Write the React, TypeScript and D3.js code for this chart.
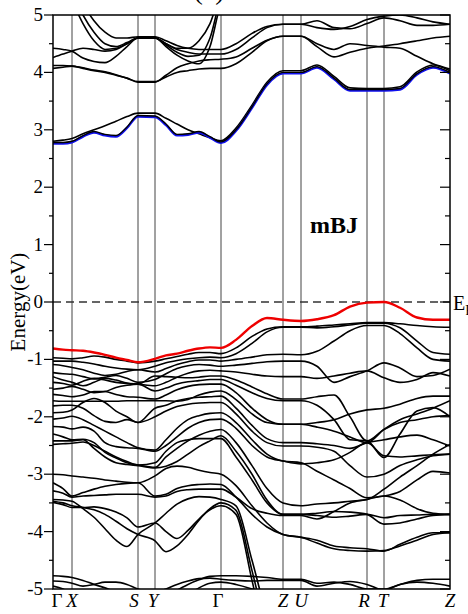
import React from 'react'
import * as d3 from 'd3'

// k-path distance of every sampled point (same grid for all bands)
const kPoints = [0, 0.1, 0.19, 0.3, 0.41, 0.52, 0.63, 0.74, 0.85, 1.02, 1.13, 1.24, 1.35, 1.46, 1.57, 1.68, 1.83, 1.99, 2.14, 2.3, 2.48, 2.64, 2.81, 2.97, 3.14, 3.31, 3.47, 3.64, 3.8, 3.97]
const symLabels = ['Γ', 'X', 'S', 'Y', 'Γ', 'Z', 'U', 'R', 'T', 'Z']
const symK = [0, 0.19, 0.85, 1.02, 1.68, 2.3, 2.48, 3.14, 3.31, 3.97]
const yTicks = [-5, -4, -3, -2, -1, 0, 1, 2, 3, 4, 5]

// top valence band (red)
const vbm = [-0.81, -0.83, -0.84, -0.85, -0.88, -0.92, -0.97, -1.01, -1.05, -0.99,
  -0.93, -0.9, -0.85, -0.81, -0.79, -0.8, -0.66, -0.42, -0.28, -0.31,
  -0.33, -0.3, -0.23, -0.08, -0.01, 0.0, -0.1, -0.27, -0.31, -0.31]

// lowest conduction band (blue)
const cbm = [2.78, 2.78, 2.8, 2.9, 2.97, 2.92, 2.9, 3.05, 3.25, 3.24,
  3.1, 2.92, 2.93, 2.97, 2.88, 2.79, 3.0, 3.4, 3.8, 4.0,
  4.0, 4.1, 3.9, 3.7, 3.7, 3.7, 3.72, 3.98, 4.1, 4.0]

const valence = [
  [-0.97, -0.98, -0.99, -0.97, -0.94, -0.96, -1.0, -1.03, -1.06, -1.03,
    -0.99, -0.95, -0.91, -0.88, -0.88, -0.9, -0.8, -0.6, -0.47, -0.43,
    -0.43, -0.42, -0.4, -0.38, -0.36, -0.36, -0.38, -0.41, -0.43, -0.44],
  [-1.03, -1.03, -1.03, -1.05, -1.08, -1.12, -1.15, -1.17, -1.18, -1.12,
    -1.06, -1.02, -0.99, -0.97, -0.96, -0.97, -0.9, -0.72, -0.52, -0.44,
    -0.44, -0.45, -0.43, -0.4, -0.37, -0.37, -0.45, -0.68, -0.88, -0.91],
  [-1.09, -1.11, -1.14, -1.18, -1.24, -1.28, -1.26, -1.21, -1.18, -1.22,
    -1.16, -1.09, -1.04, -1.01, -1.01, -1.03, -1.0, -0.96, -0.92, -0.91,
    -0.92, -0.86, -0.68, -0.5, -0.41, -0.41, -0.55, -0.8, -1.0, -1.03],
  [-1.23, -1.25, -1.26, -1.3, -1.34, -1.31, -1.28, -1.33, -1.4, -1.35,
    -1.25, -1.16, -1.11, -1.09, -1.1, -1.12, -1.1, -1.07, -1.04, -1.03,
    -1.03, -1.12, -1.4, -1.3, -1.2, -1.06, -1.15, -1.3, -1.28, -1.17],
  [-1.3, -1.36, -1.4, -1.46, -1.4, -1.33, -1.36, -1.41, -1.43, -1.46,
    -1.4, -1.31, -1.24, -1.2, -1.19, -1.2, -1.22, -1.26, -1.29, -1.3,
    -1.3, -1.33, -1.29, -1.24, -1.2, -1.32, -1.4, -1.35, -1.23, -1.29],
  [-1.4, -1.42, -1.45, -1.38, -1.33, -1.36, -1.4, -1.42, -1.43, -1.29,
    -1.3, -1.31, -1.32, -1.31, -1.29, -1.29, -1.36, -1.48, -1.6, -1.69,
    -1.69, -1.65, -1.62, -2.0, -2.42, -2.22, -2.1, -2.05, -2.0, -1.98],
  [-1.52, -1.5, -1.47, -1.52, -1.58, -1.56, -1.49, -1.45, -1.43, -1.55,
    -1.5, -1.43, -1.39, -1.37, -1.35, -1.35, -1.45, -1.58, -1.68, -1.72,
    -1.72, -1.8, -2.05, -2.4, -2.42, -2.71, -2.3, -1.9, -1.84, -2.0],
  [-1.61, -1.63, -1.65, -1.62, -1.56, -1.56, -1.61, -1.65, -1.66, -1.69,
    -1.62, -1.53, -1.47, -1.44, -1.43, -1.43, -1.58, -1.85, -2.05, -2.13,
    -2.13, -2.1, -2.05, -1.95, -1.88, -1.85, -1.78, -1.68, -1.64, -1.64],
  [-1.72, -1.73, -1.73, -1.73, -1.73, -1.73, -1.73, -1.72, -1.72, -1.72,
    -1.72, -1.73, -1.7, -1.62, -1.57, -1.55, -1.7, -1.95, -2.1, -2.13,
    -2.13, -2.18, -2.25, -2.35, -2.45, -2.22, -2.05, -1.95, -1.85, -1.72],
  [-1.81, -1.8, -1.8, -1.85, -1.98, -2.08, -2.1, -2.05, -2.1, -1.85,
    -1.8, -1.72, -1.68, -1.66, -1.65, -1.64, -1.85, -2.15, -2.38, -2.45,
    -2.45, -2.47, -2.5, -2.55, -2.45, -2.4, -2.35, -2.32, -2.4, -2.51],
  [-1.93, -1.92, -1.88, -1.75, -1.68, -1.75, -1.9, -2.0, -2.1, -2.0,
    -1.9, -1.82, -1.78, -1.76, -1.75, -1.75, -1.95, -2.25, -2.45, -2.51,
    -2.51, -2.53, -2.6, -2.85, -3.05, -3.0, -2.85, -2.75, -2.68, -2.65],
  [-2.04, -2.02, -1.99, -2.05, -2.15, -2.25, -2.35, -2.45, -2.54, -2.58,
    -2.4, -2.2, -2.05, -1.98, -1.94, -1.93, -2.1, -2.4, -2.65, -2.77,
    -2.8, -2.95, -3.1, -3.25, -3.41, -3.38, -3.3, -3.1, -2.95, -2.98],
  [-2.17, -2.18, -2.21, -2.18, -2.25, -2.45, -2.52, -2.54, -2.55, -2.6,
    -2.5, -2.35, -2.2, -2.1, -2.05, -2.04, -2.2, -2.5, -2.7, -2.77,
    -2.82, -2.8, -2.75, -2.62, -2.45, -2.68, -2.7, -2.68, -2.66, -2.65],
  [-2.3, -2.35, -2.4, -2.39, -2.45, -2.62, -2.72, -2.8, -2.84, -2.88,
    -2.7, -2.55, -2.42, -2.32, -2.25, -2.22, -2.45, -2.85, -3.25, -3.5,
    -3.55, -3.52, -3.5, -3.47, -3.44, -3.26, -3.05, -2.85, -2.65, -2.48],
  [-2.42, -2.42, -2.42, -2.4, -2.55, -2.7, -2.8, -2.83, -2.85, -2.89,
    -2.86, -2.78, -2.65, -2.52, -2.42, -2.33, -2.6, -3.0, -3.45, -3.7,
    -3.7, -3.72, -3.75, -3.73, -3.7, -3.76, -3.72, -3.71, -3.7, -3.7],
  [-2.48, -2.47, -2.46, -2.44, -2.5, -2.6, -2.7, -2.78, -2.84, -2.8,
    -2.6, -2.45, -2.4, -2.38, -2.38, -2.38, -2.7, -3.1, -3.5, -3.7,
    -3.7, -3.68, -3.65, -3.66, -3.7, -3.87, -3.85, -3.78, -3.72, -3.7],
  [-3.0, -3.01, -3.03, -3.05, -3.07, -3.1, -3.12, -3.14, -3.15, -3.03,
    -2.9, -2.86, -2.88, -2.93, -2.97, -3.0, -3.2, -3.55, -3.85, -4.05,
    -4.1, -4.2, -4.3, -4.33, -4.34, -4.33, -4.25, -4.15, -4.05, -4.02],
  [-3.15, -3.25, -3.38, -3.32, -3.26, -3.21, -3.18, -3.16, -3.15, -3.38,
    -3.35, -3.25, -3.2, -3.18, -3.17, -3.18, -3.4, -3.7, -3.92, -4.05,
    -4.1, -4.15, -4.25, -4.28, -4.3, -4.34, -4.22, -4.1, -4.02, -4.02],
  [-3.29, -3.33, -3.4, -3.38, -3.37, -3.36, -3.35, -3.35, -3.35, -3.4,
    -3.38, -3.3, -3.27, -3.26, -3.26, -3.26, -3.4, -3.6, -3.68, -3.72,
    -3.72, -3.78, -3.65, -3.5, -3.44, -3.38, -3.45, -3.6, -3.68, -3.7],
  [-3.44, -3.45, -3.47, -3.6, -3.75, -3.95, -4.15, -4.26, -4.05, -3.85,
    -3.68, -3.52, -3.43, -3.39, -3.4, -3.44, -3.55, -4.5, -5.45, -6.0,
    -6.0, -6.0, -6.0, -6.0, -6.0, -6.0, -6.0, -6.0, -6.0, -6.0],
  [-3.47, -3.5, -3.55, -3.58, -3.62, -3.7, -3.82, -3.95, -4.05, -4.16,
    -4.35, -4.25, -4.05, -3.8, -3.6, -3.5, -3.63, -4.68, -5.7, -6.2,
    -6.2, -6.2, -6.2, -6.2, -6.2, -6.2, -6.2, -6.2, -6.2, -6.2],
  [-3.49, -3.53, -3.58, -3.58, -3.57, -3.6, -3.66, -3.76, -3.92, -3.85,
    -4.0, -4.12, -3.98, -3.78, -3.62, -3.55, -3.7, -4.85, -5.95, -6.4,
    -6.4, -6.4, -6.4, -6.4, -6.4, -6.4, -6.4, -6.4, -6.4, -6.4],
  [-4.77, -4.78, -4.8, -4.85, -4.92, -4.98, -5.05, -5.1, -5.15, -5.15,
    -5.1, -5.02, -4.92, -4.84, -4.78, -4.77, -4.77, -4.78, -4.8, -4.83,
    -4.83, -4.9, -4.88, -4.92, -5.0, -5.0, -4.92, -4.85, -4.83, -4.83],
  [-4.86, -4.87, -4.9, -4.95, -4.92, -4.88, -4.88, -4.92, -5.0, -5.05,
    -5.0, -4.92, -4.86, -4.82, -4.81, -4.83, -4.85, -4.86, -4.85, -4.85,
    -4.85, -4.95, -4.9, -4.87, -4.92, -5.02, -4.92, -4.88, -4.9, -4.95],
  [-4.95, -5.0, -5.1, -5.25, -5.3, -5.3, -5.3, -5.3, -5.3, -5.3,
    -5.3, -5.25, -5.1, -4.98, -4.9, -4.88, -4.92, -5.0, -5.1, -5.2,
    -5.2, -5.2, -5.2, -5.2, -5.2, -5.2, -5.2, -5.2, -5.2, -5.2],
]

const conduction = [
  [2.8, 2.82, 2.85, 2.93, 3.0, 3.07, 3.15, 3.23, 3.29, 3.29,
    3.2, 3.1, 3.0, 2.93, 2.86, 2.81, 3.03, 3.43, 3.83, 4.03,
    4.03, 4.13, 3.93, 3.73, 3.72, 3.72, 3.75, 4.01, 4.13, 4.03],
  [4.07, 4.09, 4.11, 4.07, 4.03, 4.0, 3.95, 3.9, 3.84, 3.84,
    3.92, 4.0, 4.03, 4.06, 4.07, 4.07, 4.15, 4.35, 4.55, 4.63,
    4.63, 4.45, 4.27, 4.35, 4.42, 4.46, 4.5, 4.55, 4.6, 4.63],
  [4.12, 4.12, 4.11, 4.08, 4.04, 4.01, 3.96, 3.9, 3.83, 3.83,
    3.95, 4.08, 4.15, 4.2, 4.22, 4.23, 4.27, 4.42, 4.56, 4.63,
    4.63, 4.5, 4.4, 4.5, 4.47, 4.44, 4.42, 4.28, 4.15, 4.06],
  [4.42, 4.4, 4.37, 4.25, 4.19, 4.17, 4.28, 4.45, 4.6, 4.6,
    4.5, 4.42, 4.42, 4.55, 4.85, 5.4, 5.7, 6.0, 6.0, 6.0,
    6.0, 6.0, 6.0, 6.0, 6.0, 6.0, 6.0, 6.0, 6.0, 6.0],
  [4.26, 4.32, 4.37, 4.42, 4.4, 4.37, 4.4, 4.5, 4.6, 4.6,
    4.48, 4.35, 4.28, 4.3, 4.6, 5.3, 5.6, 6.0, 6.0, 6.0,
    6.0, 6.0, 6.0, 6.0, 6.0, 6.0, 6.0, 6.0, 6.0, 6.0],
  [6.0, 5.6, 5.25, 4.85, 4.55, 4.4, 4.42, 4.5, 4.6, 4.6,
    4.45, 4.3, 4.2, 4.15, 4.45, 5.2, 5.5, 6.0, 6.0, 6.0,
    6.0, 6.0, 6.0, 6.0, 6.0, 6.0, 6.0, 6.0, 6.0, 6.0],
  [6.2, 5.8, 5.4, 5.0, 4.7, 4.5, 4.45, 4.52, 4.6, 4.6,
    4.5, 4.4, 4.35, 4.32, 4.32, 4.32, 4.4, 4.6, 4.78, 4.84,
    4.84, 4.9, 4.78, 4.76, 4.85, 4.95, 4.9, 4.82, 4.82, 4.84],
  [6.5, 6.0, 5.6, 5.2, 4.9, 4.7, 4.6, 4.6, 4.62, 4.62,
    4.55, 4.47, 4.42, 4.4, 4.4, 4.4, 4.5, 4.68, 4.8, 4.84,
    4.84, 4.78, 4.75, 4.8, 4.92, 4.98, 5.0, 4.95, 4.88, 4.84],
]

const serif = '"Liberation Serif", "DejaVu Serif", serif'

export default function App() {
  const left = 53
  const right = 450
  const top = 15
  const bottom = 589

  const x = d3.scaleLinear().domain([0, 3.97]).range([left, right])
  const y = d3.scaleLinear().domain([-5, 5]).range([bottom, top])

  const line = d3
    .line<number>()
    .x((_, i) => x(kPoints[i]))
    .y((d) => y(d))
    .curve(d3.curveMonotoneX)

  const minor = d3.range(-4.5, 5, 1)
  const labelDx = [4, 0, -4, -2, -3, 0, 0, -3, -1, 0]

  return (
    <svg width={468} height={614} style={{ position: 'absolute', left: 0, top: 0, background: '#fff' }}>
      <defs>
        <clipPath id="plot">
          <rect x={left} y={top} width={right - left} height={bottom - top} />
        </clipPath>
      </defs>

      <text x={209} y={-1} fontFamily={serif} fontSize={28} textAnchor="middle">(c)</text>

      {/* high symmetry lines */}
      {symK.slice(1, -1).map((k, i) => (
        <line key={'v' + i} x1={x(k)} x2={x(k)} y1={top} y2={bottom} stroke="#444" strokeWidth={1} />
      ))}

      <g clipPath="url(#plot)" fill="none" strokeLinejoin="round">
        {valence.map((b, i) => (
          <path key={'vb' + i} d={line(b) || ''} stroke="#000" strokeWidth={1.6} />
        ))}
        {conduction.map((b, i) => (
          <path key={'cb' + i} d={line(b) || ''} stroke="#000" strokeWidth={1.6} />
        ))}
        <path d={line(cbm) || ''} stroke="#1010ee" strokeWidth={2.4} transform="translate(0,1)" />
        <path d={line(cbm) || ''} stroke="#000" strokeWidth={1.4} />
        <line x1={left} x2={right} y1={y(0)} y2={y(0)} stroke="#333" strokeWidth={1.5} strokeDasharray="8,5" />
        <path d={line(vbm) || ''} stroke="#ee0000" strokeWidth={2.4} />
      </g>

      {/* frame */}
      <rect x={left} y={top} width={right - left} height={bottom - top} fill="none" stroke="#000" strokeWidth={1.5} />

      {/* y ticks */}
      {yTicks.map((t) => (
        <g key={'t' + t}>
          <line x1={left - 9} x2={left} y1={y(t)} y2={y(t)} stroke="#000" strokeWidth={1.2} />
          <line x1={right - 10} x2={right} y1={y(t)} y2={y(t)} stroke="#000" strokeWidth={1.2} />
          <text x={43} y={y(t) + 6} fontFamily={serif} fontSize={19} textAnchor="end">{t}</text>
        </g>
      ))}
      {minor.map((t) => (
        <g key={'m' + t}>
          <line x1={left - 4} x2={left} y1={y(t)} y2={y(t)} stroke="#000" strokeWidth={1.2} />
          <line x1={right - 5} x2={right} y1={y(t)} y2={y(t)} stroke="#000" strokeWidth={1.2} />
        </g>
      ))}

      {/* k-path labels */}
      {symLabels.map((s, i) => (
        <text
          key={'l' + i}
          x={x(symK[i]) + labelDx[i]}
          y={607}
          fontFamily={serif}
          fontSize={19}
          fontStyle={s === 'Γ' ? 'normal' : 'italic'}
          textAnchor="middle"
        >
          {s}
        </text>
      ))}

      <text transform="translate(25,302) rotate(-90)" fontFamily={serif} fontSize={21} textAnchor="middle">Energy(eV)</text>
      <text x={310} y={233} fontFamily={serif} fontSize={24} fontWeight="bold">mBJ</text>
      <text x={453} y={310} fontFamily={serif} fontSize={20}>
        E<tspan fontSize={14} dy={5}>F</tspan>
      </text>
    </svg>
  )
}
